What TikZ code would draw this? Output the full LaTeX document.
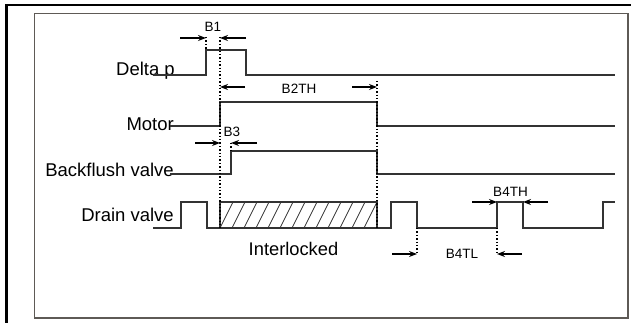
\documentclass[tikz,border=0pt]{standalone}
\usepackage{fontspec}
\setmainfont{Liberation Sans}
\usetikzlibrary{arrows.meta}
\definecolor{wave}{HTML}{333333}
\definecolor{frame}{HTML}{5E5A56}
\tikzset{
  wavel/.style={draw=wave, line width=1.1pt, line join=miter},
  guide/.style={draw=black, line width=1.4pt, dotted},
  dimarrow/.style={draw=black, line width=1.4pt, -{Stealth[length=8pt,width=6pt]}},
  siglabel/.style={anchor=base east, inner sep=0pt, font=\fontsize{18.5}{20}\selectfont},
  biglabel/.style={anchor=base, inner sep=0pt, font=\fontsize{18.3}{20}\selectfont},
  smalllabel/.style={anchor=base, inner sep=0pt, font=\fontsize{13.5}{15}\selectfont},
}
\begin{document}
\begin{tikzpicture}[x=1pt,y=-1pt]
\useasboundingbox (0,0) rectangle (633,323);
% frames
\draw[black, line width=2.2pt] (6.5,323) -- (6.5,5) -- (631,5);
\draw[frame, line width=1.5pt] (34.5,13.5) rectangle (628,318);

% labels
\node[siglabel] (ldp) at (175,76) {Delta p};
\node[siglabel] (lmo) at (174,131) {Motor};
\node[siglabel] (lbf) at (174,177) {Backflush valve};
\node[siglabel] (ldv) at (174,222) {Drain valve};
\node[biglabel] (lint) at (293.5,256) {Interlocked};

% waveforms
\draw[wavel] (153,75) -- (206,75) -- (206,50) -- (246,50) -- (246,75) -- (615,75);
\draw[wavel] (170,126) -- (220,126) -- (220,102) -- (377,102) -- (377,126) -- (615,126);
\draw[wavel] (170,174) -- (231,174) -- (231,151) -- (377,151) -- (377,174) -- (615,174);
\draw[wavel] (153,228) -- (181,228) -- (181,202) -- (207,202) -- (207,228) -- (391,228)
  -- (391,202) -- (417,202) -- (417,228) -- (497,228) -- (497,202) -- (523,202)
  -- (523,228) -- (603,228) -- (603,202) -- (615,202);

% hatched interlock block
\begin{scope}
\clip (220,202) rectangle (377,228);
\foreach \x in {208,220,...,380} {
  \draw[wave, line width=0.8pt] (\x,228) -- ({\x+13},202);
}
\end{scope}
\draw[wavel] (220,202) rectangle (377,228);

% guide lines
\coordinate (g1t) at (206,37);  \coordinate (g1b) at (206,50);
\coordinate (g2t) at (220,37);  \coordinate (g2b) at (220,228);
\coordinate (g3t) at (231,143); \coordinate (g3b) at (231,151);
\coordinate (g4t) at (377,81);  \coordinate (g4b) at (377,228);
\coordinate (g5t) at (417,228); \coordinate (g5b) at (417,254);
\coordinate (g6t) at (497,228); \coordinate (g6b) at (497,254);
\draw[guide] (g1t) -- (g1b);
\draw[guide] (g2t) -- (g2b);
\draw[guide] (g3t) -- (g3b);
\draw[guide] (g4t) -- (g4b);
\draw[guide] (g5t) -- (g5b);
\draw[guide] (g6t) -- (g6b);

% dimension arrows
\coordinate (a1s) at (180,38);  \coordinate (a1e) at (206,38);
\coordinate (a2s) at (246,38);  \coordinate (a2e) at (220,38);
\coordinate (a3s) at (245,87);  \coordinate (a3e) at (220,87);
\coordinate (a4s) at (352,87);  \coordinate (a4e) at (377,87);
\coordinate (a5s) at (195,143); \coordinate (a5e) at (220,143);
\coordinate (a6s) at (257,143); \coordinate (a6e) at (231,143);
\coordinate (a7s) at (472,202); \coordinate (a7e) at (497,202);
\coordinate (a8s) at (548,202); \coordinate (a8e) at (523,202);
\coordinate (a9s) at (392,254); \coordinate (a9e) at (417,254);
\coordinate (a10s) at (522,254); \coordinate (a10e) at (497,254);
\foreach \n in {1,...,10} { \draw[dimarrow] (a\n s) -- (a\n e); }

% small labels
\node[smalllabel] (b1) at (213,32) {B1};
\node[smalllabel] (b2) at (299,94) {B2TH};
\node[smalllabel] (b3) at (232,137) {B3};
\node[smalllabel] (b4h) at (510.5,197) {B4TH};
\node[smalllabel] (b4l) at (462,259) {B4TL};
\end{tikzpicture}
\end{document}
